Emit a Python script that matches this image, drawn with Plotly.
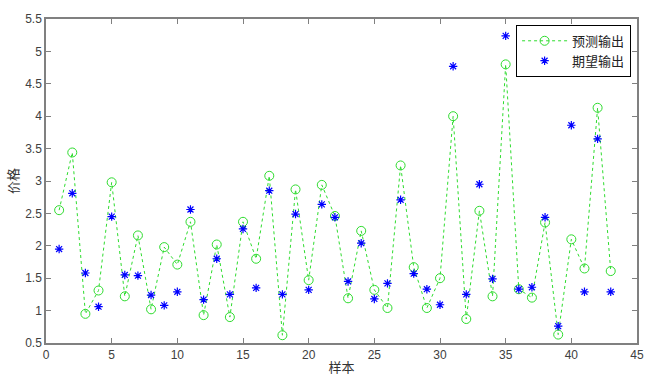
import plotly.graph_objects as go

samples = list(range(1, 44))
predicted = [2.55, 3.44, 0.95, 1.31, 2.98, 1.22, 2.16, 1.02, 1.98, 1.71,
             2.37, 0.93, 2.02, 0.90, 2.37, 1.80, 3.08, 0.62, 2.87, 1.47,
             2.94, 2.46, 1.19, 2.23, 1.32, 1.04, 3.24, 1.67, 1.04, 1.50,
             4.00, 0.87, 2.54, 1.22, 4.80, 1.33, 1.20, 2.36, 0.63, 2.10,
             1.65, 4.13, 1.61]
expected = [1.95, 2.81, 1.58, 1.06, 2.45, 1.55, 1.54, 1.24, 1.08, 1.29,
            2.56, 1.17, 1.80, 1.25, 2.26, 1.35, 2.85, 1.25, 2.49, 1.32,
            2.64, 2.44, 1.45, 2.04, 1.18, 1.42, 2.71, 1.57, 1.33, 1.09,
            4.77, 1.25, 2.95, 1.49, 5.24, 1.33, 1.36, 2.44, 0.76, 3.86,
            1.29, 3.65, 1.29]
x_ticks = [0, 5, 10, 15, 20, 25, 30, 35, 40, 45]
y_ticks = [0.5, 1, 1.5, 2, 2.5, 3, 3.5, 4, 4.5, 5, 5.5]

green = "#2edc2e"
blue = "#0000ff"
cjk = "Noto Sans CJK SC"
latin = "Liberation Sans, Arial, sans-serif"

fig = go.Figure()
fig.add_trace(go.Scatter(
    x=samples, y=predicted, mode="lines+markers", name="预测输出",
    line=dict(color=green, width=1, dash="dot"),
    marker=dict(symbol="circle-open", size=9, color=green, line=dict(width=1)),
))
fig.add_trace(go.Scatter(
    x=samples, y=expected, mode="markers", name="期望输出",
    marker=dict(symbol="asterisk-open", size=7, color=blue, line=dict(width=1.2, color=blue)),
))

axis_common = dict(
    showgrid=False, zeroline=False, showline=True, linecolor="#808080", linewidth=1.5,
    mirror="ticks", ticks="inside", ticklen=5, tickcolor="#808080", tickwidth=1,
    tickfont=dict(family=latin, size=12, color="#404040"),
)

fig.update_layout(
    width=656, height=388,
    margin=dict(l=44, r=16, t=17, b=45),
    paper_bgcolor="white", plot_bgcolor="white",
    xaxis=dict(range=[0, 45], tickvals=x_ticks, ticktext=[str(v) for v in x_ticks],
               title=dict(text="样本", font=dict(family=cjk, size=13, color="#333333"), standoff=2),
               **axis_common),
    yaxis=dict(range=[0.5, 5.5], tickvals=y_ticks, ticktext=[f"{v:g}" for v in y_ticks],
               title=dict(text="价格", font=dict(family=cjk, size=13, color="#333333"), standoff=4),
               **axis_common),
    legend=dict(x=0.99, y=0.982, xanchor="right", yanchor="top",
                bgcolor="white", bordercolor="black", borderwidth=1,
                font=dict(family=cjk, size=13, color="#222222"),
                tracegroupgap=0, itemwidth=45),
    showlegend=True,
)

fig.write_html("out.html")
